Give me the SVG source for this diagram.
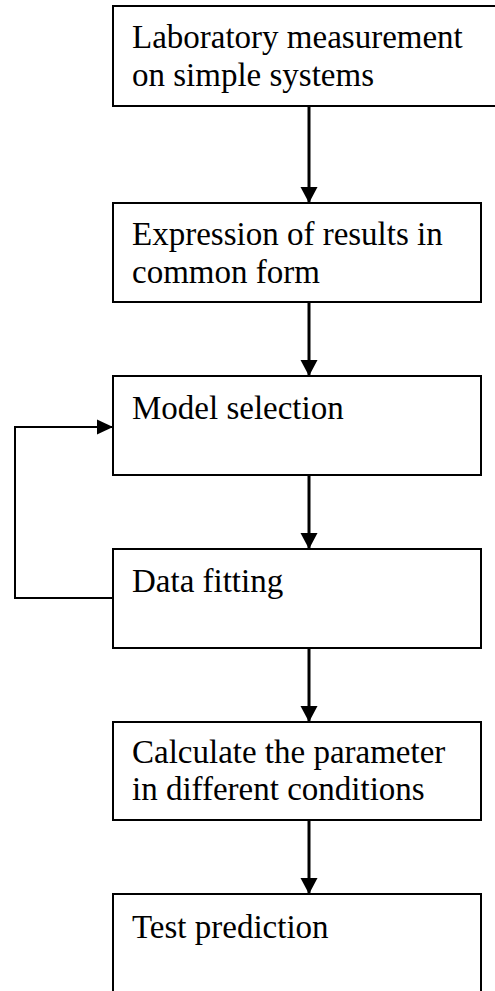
<svg xmlns="http://www.w3.org/2000/svg" width="495" height="991" viewBox="0 0 495 991">
<style>
.box{fill:#fff;stroke:#000;stroke-width:2}
.t{font-family:"Liberation Serif","Times New Roman",serif;font-size:33px;fill:#000}
.c{fill:none;stroke:#000;stroke-width:3}
.l{fill:none;stroke:#000;stroke-width:2}
</style>
<defs>
<marker id="ah" markerUnits="userSpaceOnUse" markerWidth="18" markerHeight="18" refX="16" refY="8.5" orient="auto">
<path d="M0,0 L16,8.5 L0,17 Z" fill="#000"/>
</marker>
<marker id="ah2" markerUnits="userSpaceOnUse" markerWidth="18" markerHeight="18" refX="16" refY="8" orient="auto">
<path d="M0,0.5 L16,8 L0,15.5 Z" fill="#000"/>
</marker>
</defs>
<rect width="495" height="991" fill="#fff"/>
<g id="connectors">
<line class="c" x1="309" y1="106" x2="309" y2="203" marker-end="url(#ah)"/>
<line class="c" x1="309" y1="302" x2="309" y2="376" marker-end="url(#ah)"/>
<line class="c" x1="309" y1="475" x2="309" y2="549" marker-end="url(#ah)"/>
<line class="c" x1="309" y1="648" x2="309" y2="722" marker-end="url(#ah)"/>
<line class="c" x1="309" y1="820" x2="309" y2="894" marker-end="url(#ah)"/>
<polyline class="l" points="113,598 15,598 15,427 113,427" marker-end="url(#ah2)"/>
</g>
<g id="n1">
<rect class="box" x="113" y="6" width="390" height="100"/>
<text class="t" x="132" y="48">Laboratory measurement</text>
<text class="t" x="132" y="86">on simple systems</text>
</g>
<g id="n2">
<rect class="box" x="113" y="203" width="368" height="99"/>
<text class="t" x="132" y="245">Expression of results in</text>
<text class="t" x="132" y="283">common form</text>
</g>
<g id="n3">
<rect class="box" x="113" y="376" width="368" height="99"/>
<text class="t" x="132" y="419">Model selection</text>
</g>
<g id="n4">
<rect class="box" x="113" y="549" width="368" height="99"/>
<text class="t" x="132" y="592">Data fitting</text>
</g>
<g id="n5">
<rect class="box" x="113" y="722" width="368" height="98"/>
<text class="t" x="132" y="763">Calculate the parameter</text>
<text class="t" x="132" y="800">in different conditions</text>
</g>
<g id="n6">
<rect class="box" x="113" y="894" width="368" height="110"/>
<text class="t" x="132" y="938">Test prediction</text>
</g>
</svg>
